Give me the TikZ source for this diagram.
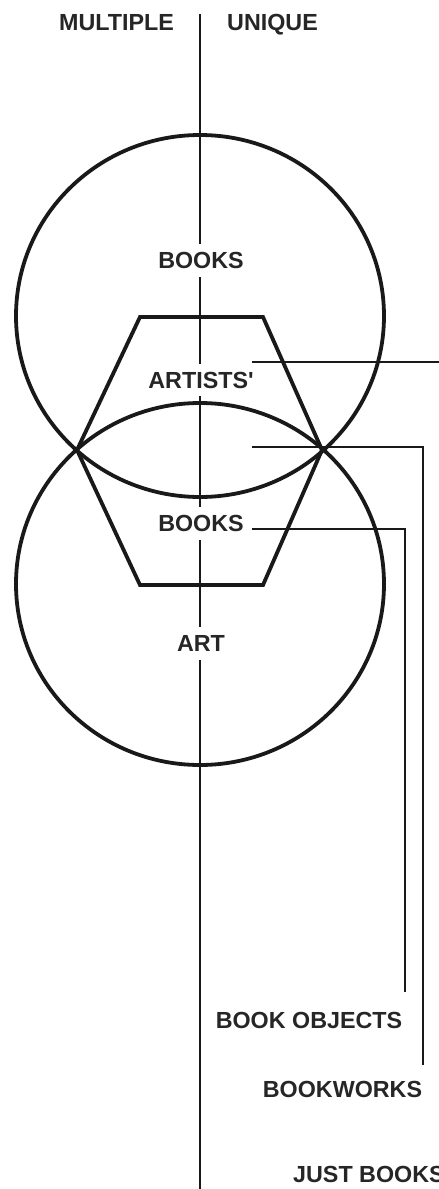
\documentclass[tikz,border=0pt]{standalone}
\usepackage{fontspec}
\setmainfont{Liberation Sans}
\usetikzlibrary{positioning}

\begin{document}
\begin{tikzpicture}[x=1pt,y=-1pt,
  lbl/.style={font=\bfseries\fontsize{23.3}{27}\selectfont,inner sep=0pt,
    text height=16.8pt,text depth=0pt,text=black!85},
  onaxis/.style={lbl,fill=white,inner ysep=8pt,inner xsep=3pt},
  heavy/.style={line width=3.8pt,black!90},
  leader/.style={line width=2pt,black!90}]
\useasboundingbox (0,0) rectangle (439,1189);

\coordinate (axtop) at (200,14);
\coordinate (axbot) at (200,1195);
\draw[leader] (axtop) -- (axbot);

\draw[heavy] (200,316) ellipse (184 and 181);
\draw[heavy] (200,584) ellipse (184 and 181);
\draw[heavy,line join=miter] (140,317) -- (263,317) -- (322,450) -- (263,585)
  -- (140,585) -- (77,450) -- cycle;

\node[lbl] (multiple) at (116.5,22) {MULTIPLE};
\node[lbl] (unique) at (272.5,22) {UNIQUE};

\node[onaxis] (books) at (201,260.5) {BOOKS};
\node[onaxis] (artists) at (201,380) {ARTISTS\textquotesingle};
\node[onaxis] (booksb) at (201,523.5) {BOOKS};
\node[onaxis] (art) at (201,643.5) {ART};

\node[lbl] (objects) at (309,1020.5) {BOOK OBJECTS};
\node[lbl] (bookworks) at (342.5,1089.5) {BOOKWORKS};
\node[lbl,anchor=west] (just) at (293,1174.5) {JUST BOOKS};

\coordinate (src1) at (252,362);
\coordinate (src2) at (252,447);
\coordinate (src3) at (252,529);
\draw[leader,shorten >=16pt] (src1) -| ([xshift=4pt]just.north east);
\draw[leader,shorten >=16pt] (src2) -| ([xshift=1pt]bookworks.north east);
\draw[leader,shorten >=20pt] (src3) -| ([xshift=3pt]objects.north east);
\end{tikzpicture}
\end{document}
